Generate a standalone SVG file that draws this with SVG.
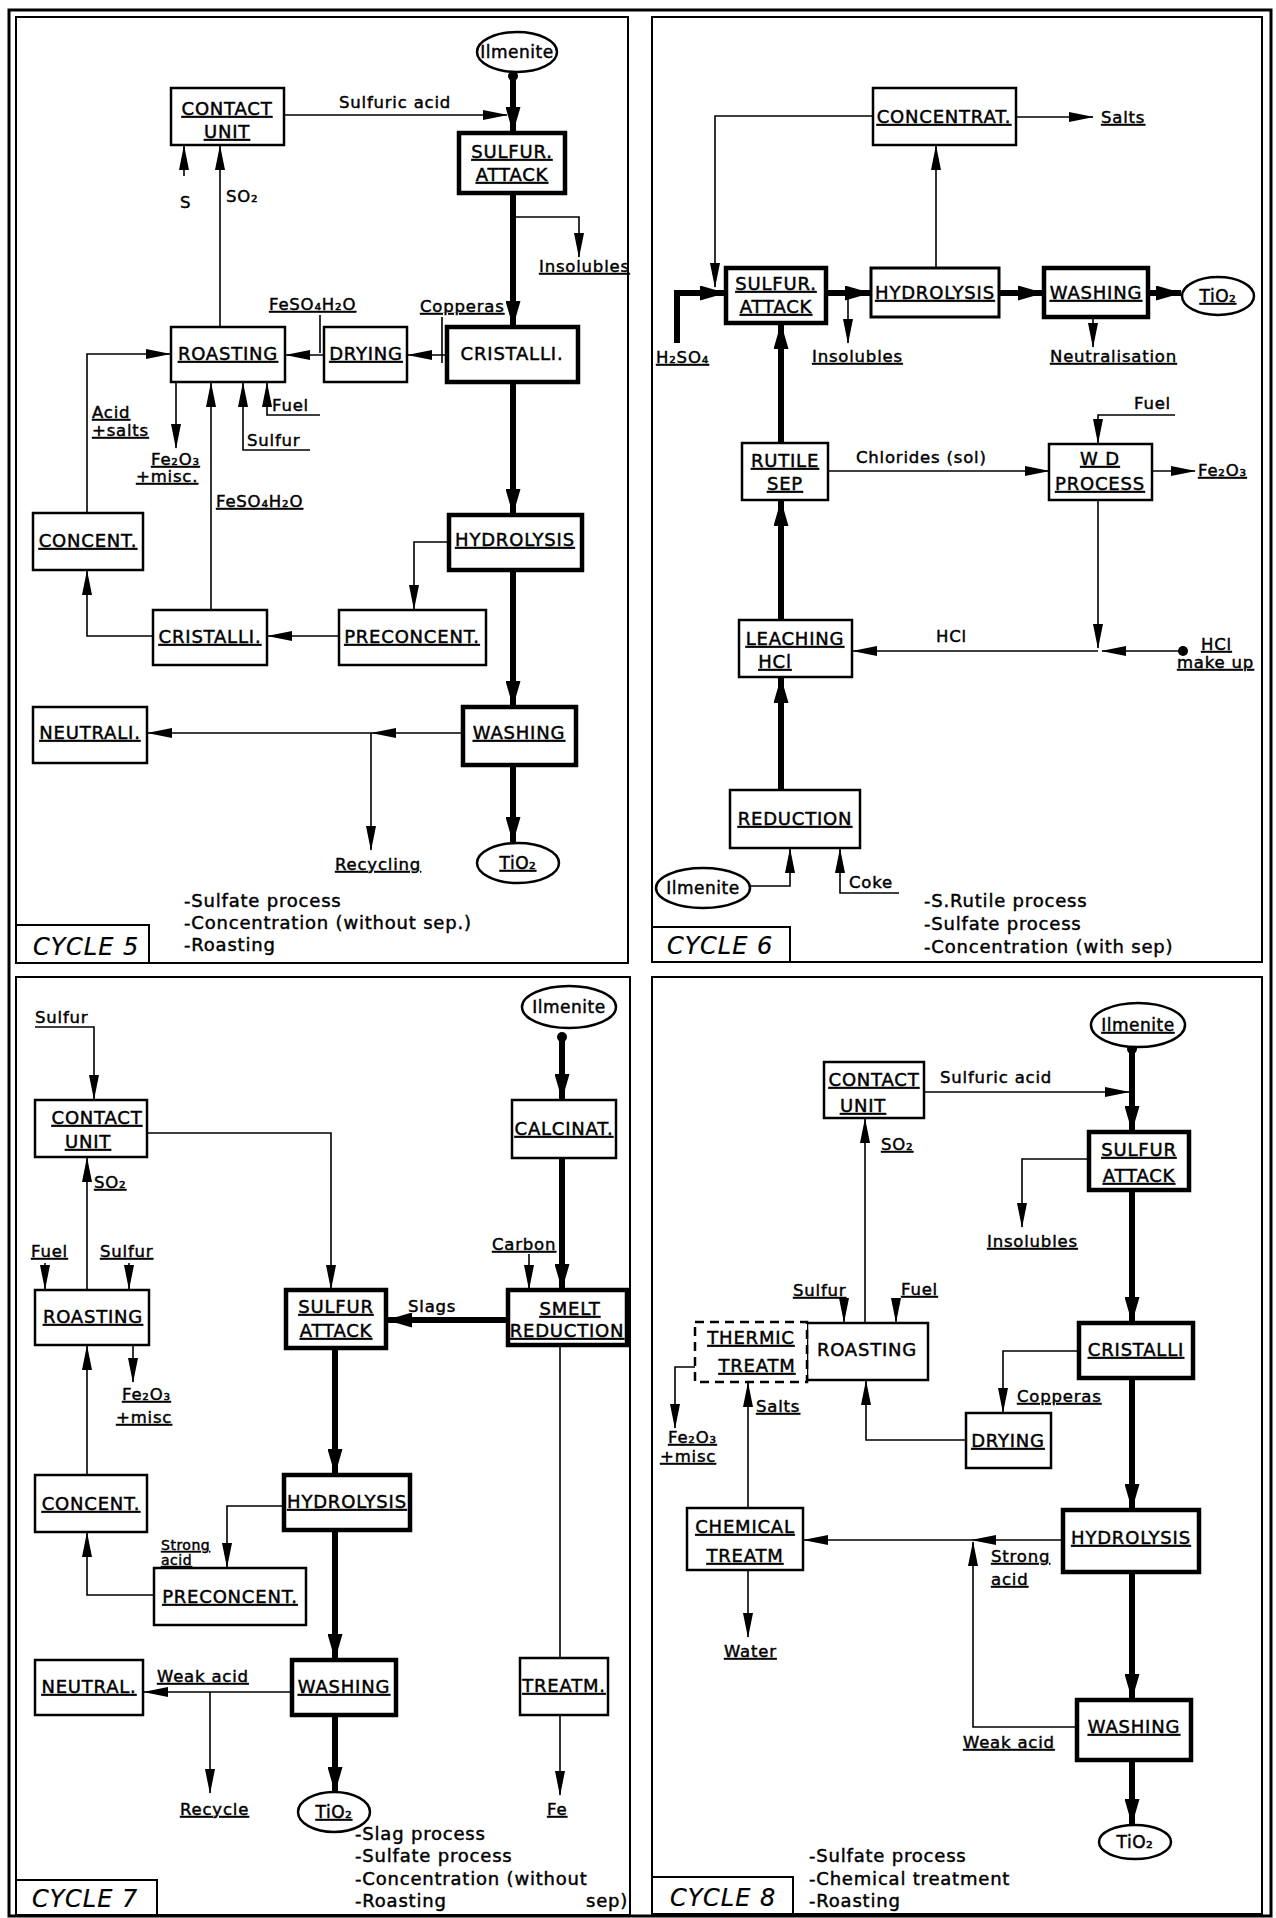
<svg xmlns="http://www.w3.org/2000/svg" width="1276" height="1918" viewBox="0 0 1276 1918">
<defs>
<style>
.frame{fill:none;stroke:#000;stroke-width:3}
.pan{fill:none;stroke:#000;stroke-width:2}
.box{fill:#fff;stroke:#000;stroke-width:2.5}
.tb{fill:#fff;stroke:#000;stroke-width:4.5}
.db{fill:#fff;stroke:#000;stroke-width:2.5;stroke-dasharray:9 6}
.ln{fill:none;stroke:#000;stroke-width:1.6}
.tk{fill:none;stroke:#000;stroke-width:6}
.ar{marker-end:url(#a)}
.at{marker-end:url(#b)}
.dot{fill:#000}
text{font-family:"DejaVu Sans","Liberation Sans",sans-serif;fill:#000;stroke:#000;stroke-width:0.45px}
.n{font-size:18px;letter-spacing:0.8px;text-anchor:middle}
.u{text-decoration:underline}
.e{font-size:17px;letter-spacing:0.5px;text-anchor:middle}
.l{font-size:16.5px;letter-spacing:0.8px}
.s{font-size:14px;letter-spacing:0.5px}
.d{font-size:18px;letter-spacing:0.8px}
.cy{font-size:24px;font-style:italic;letter-spacing:1px;stroke-width:0.2px}
</style>
<marker id="a" markerUnits="userSpaceOnUse" markerWidth="25" markerHeight="11" refX="24" refY="5.5" orient="auto" viewBox="0 0 25 11"><path d="M0,0.5 L25,5.5 L0,10.5 z" fill="#000"/></marker>
<marker id="b" markerUnits="userSpaceOnUse" markerWidth="26" markerHeight="15" refX="25" refY="7.5" orient="auto" viewBox="0 0 26 15"><path d="M0,0 L26,7.5 L0,15 z" fill="#000"/></marker>
</defs>
<rect width="1276" height="1918" fill="#fff"/>
<g id="frames">
<rect class="frame" x="9" y="10" width="1262" height="1906"/>
<rect class="pan" x="16" y="17" width="612" height="946"/>
<rect class="pan" x="652" y="17" width="610" height="945"/>
<rect class="pan" x="16" y="977" width="614" height="938"/>
<rect class="pan" x="652" y="977" width="610" height="937"/>
</g>
<g id="cycle-labels">
<rect class="pan" x="16" y="925" width="133" height="38"/><text class="cy" x="33" y="955">CYCLE 5</text>
<rect class="pan" x="652" y="927" width="138" height="35"/><text class="cy" x="667" y="954">CYCLE 6</text>
<rect class="pan" x="16" y="1880" width="141" height="35"/><text class="cy" x="32" y="1907">CYCLE 7</text>
<rect class="pan" x="652" y="1877" width="141" height="37"/><text class="cy" x="670" y="1906">CYCLE 8</text>
</g>

<g id="connectors">
<!-- Cycle 5 -->
<path class="tk at" d="M513,76 V132"/>
<path class="ln ar" d="M284,115 H507"/>
<path class="ln ar" d="M184,176 V146"/>
<path class="ln ar" d="M220,327 V146"/>
<path class="ln ar" d="M513,217 H579 V257"/>
<path class="tk at" d="M513,193 V326"/>
<path class="ln ar" d="M447,355 H408"/>
<path class="ln ar" d="M324,355 H286"/>
<path class="ln" d="M442,317 V363 M320,315 V353"/>
<path class="ln ar" d="M87,513 V354 H170"/>
<path class="ln ar" d="M176,382 V448"/>
<path class="ln ar" d="M211,610 V383"/>
<path class="ln ar" d="M310,450 H243 V383"/>
<path class="ln ar" d="M320,415 H267 V383"/>
<path class="ln ar" d="M153,636 H87 V571"/>
<path class="ln ar" d="M339,636 H268"/>
<path class="ln ar" d="M449,542 H414 V609"/>
<path class="tk at" d="M513,382 V514"/>
<path class="tk at" d="M513,570 V706"/>
<path class="tk at" d="M513,765 V842"/>
<path class="ln ar" d="M463,733 H372"/>
<path class="ln ar" d="M372,733 H148"/>
<path class="ln ar" d="M371,733 V850"/>
<circle class="dot" cx="513" cy="76" r="5"/>
<!-- Cycle 6 -->
<path class="ln ar" d="M1016,117 H1093"/>
<path class="ln ar" d="M873,116 H715 V287"/>
<path class="tk at" d="M677,343 V293 H725"/>
<path class="tk at" d="M826,293 H870"/>
<path class="ln ar" d="M848,293 V343"/>
<path class="ln ar" d="M936,268 V146"/>
<path class="tk at" d="M999,293 H1043"/>
<path class="tk at" d="M1148,293 H1181"/>
<path class="ln ar" d="M1093,317 V347"/>
<path class="ln ar" d="M1175,415 H1098 V443"/>
<path class="ln ar" d="M828,471 H1049"/>
<path class="ln ar" d="M1152,471 H1195"/>
<path class="tk at" d="M781,443 V324"/>
<path class="ln ar" d="M1098,500 V648"/>
<path class="ln ar" d="M1183,651 H1102"/>
<path class="ln ar" d="M1098,651 H853"/>
<path class="tk at" d="M781,620 V501"/>
<path class="tk at" d="M781,790 V678"/>
<path class="ln ar" d="M750,886 H790 V849"/>
<path class="ln ar" d="M899,893 H840 V849"/>
<circle class="dot" cx="1183" cy="651" r="5"/>
<!-- Cycle 7 -->
<path class="ln ar" d="M35,1027 H94 V1099"/>
<path class="ln ar" d="M147,1133 H331 V1289"/>
<path class="ln ar" d="M87,1290 V1158"/>
<path class="ln ar" d="M45,1263 V1289"/>
<path class="ln ar" d="M129,1263 V1289"/>
<path class="ln ar" d="M133,1345 V1382"/>
<path class="ln ar" d="M87,1475 V1346"/>
<path class="tk at" d="M562,1037 V1099"/>
<path class="tk at" d="M562,1158 V1289"/>
<path class="ln ar" d="M529,1254 V1289"/>
<path class="tk at" d="M508,1320 H387"/>
<path class="ln" d="M560,1345 V1658"/>
<path class="tk at" d="M335,1348 V1474"/>
<path class="ln ar" d="M284,1506 H227 V1567"/>
<path class="ln ar" d="M154,1595 H87 V1533"/>
<path class="tk at" d="M335,1530 V1659"/>
<path class="ln ar" d="M292,1692 H144"/>
<path class="ln ar" d="M210,1692 V1793"/>
<path class="tk at" d="M335,1715 V1792"/>
<path class="ln ar" d="M560,1715 V1795"/>
<circle class="dot" cx="562" cy="1037" r="5"/>
<!-- Cycle 8 -->
<path class="tk at" d="M1132,1048 V1131"/>
<path class="ln ar" d="M924,1092 H1129"/>
<path class="ln ar" d="M865,1323 V1119"/>
<path class="ln ar" d="M1089,1159 H1022 V1227"/>
<path class="tk at" d="M1132,1190 V1322"/>
<path class="ln ar" d="M1079,1351 H1003 V1412"/>
<path class="ln ar" d="M966,1440 H866 V1381"/>
<path class="ln ar" d="M844,1300 V1322"/>
<path class="ln ar" d="M896,1301 V1322"/>
<path class="ln ar" d="M695,1367 H675 V1428"/>
<path class="ln ar" d="M748,1508 V1383"/>
<path class="ln ar" d="M748,1570 V1637"/>
<path class="tk at" d="M1132,1378 V1509"/>
<path class="ln ar" d="M1063,1540 H972"/>
<path class="ln ar" d="M972,1540 H804"/>
<path class="ln ar" d="M1077,1727 H973 V1542"/>
<path class="tk at" d="M1132,1572 V1699"/>
<path class="tk at" d="M1132,1760 V1824"/>
<circle class="dot" cx="1132" cy="1049" r="5"/>
</g>

<!-- Cycle 5 nodes -->
<g id="c5-ilmenite"><ellipse class="box" cx="517" cy="52" rx="40" ry="20"/><text class="e" x="517" y="58">Ilmenite</text></g>
<g id="c5-contact"><rect class="box" x="171" y="88" width="113" height="57"/><text class="n u" x="227" y="115">CONTACT</text><text class="n u" x="227" y="138">UNIT</text></g>
<g id="c5-sulfur-attack"><rect class="tb" x="459" y="133" width="106" height="60"/><text class="n u" x="512" y="158">SULFUR.</text><text class="n u" x="512" y="181">ATTACK</text></g>
<g id="c5-cristalli"><rect class="tb" x="447" y="327" width="131" height="55"/><text class="n" x="512" y="360">CRISTALLI.</text></g>
<g id="c5-drying"><rect class="box" x="324" y="327" width="83" height="55"/><text class="n u" x="366" y="360">DRYING</text></g>
<g id="c5-roasting"><rect class="box" x="171" y="327" width="114" height="55"/><text class="n u" x="228" y="360">ROASTING</text></g>
<g id="c5-concent"><rect class="box" x="33" y="513" width="110" height="57"/><text class="n u" x="88" y="547">CONCENT.</text></g>
<g id="c5-cristalli2"><rect class="box" x="153" y="610" width="114" height="55"/><text class="n u" x="210" y="643">CRISTALLI.</text></g>
<g id="c5-preconcent"><rect class="box" x="339" y="610" width="147" height="55"/><text class="n u" x="412" y="643">PRECONCENT.</text></g>
<g id="c5-hydrolysis"><rect class="tb" x="449" y="515" width="133" height="55"/><text class="n u" x="515" y="546">HYDROLYSIS</text></g>
<g id="c5-washing"><rect class="tb" x="463" y="707" width="113" height="58"/><text class="n u" x="519" y="739">WASHING</text></g>
<g id="c5-neutrali"><rect class="box" x="33" y="707" width="114" height="56"/><text class="n u" x="90" y="739">NEUTRALI.</text></g>
<g id="c5-tio2"><ellipse class="box" cx="518" cy="863" rx="41" ry="20"/><text class="e u" x="518" y="869">TiO₂</text></g>

<!-- Cycle 6 nodes -->
<g id="c6-concentrat"><rect class="box" x="873" y="88" width="143" height="57"/><text class="n u" x="944" y="123">CONCENTRAT.</text></g>
<g id="c6-sulfur-attack"><rect class="tb" x="726" y="268" width="100" height="55"/><text class="n u" x="776" y="290">SULFUR.</text><text class="n u" x="776" y="313">ATTACK</text></g>
<g id="c6-hydrolysis"><rect class="box" x="871" y="268" width="128" height="49" style="stroke-width:3"/><text class="n u" x="935" y="299">HYDROLYSIS</text></g>
<g id="c6-washing"><rect class="tb" x="1044" y="268" width="104" height="49"/><text class="n u" x="1096" y="299">WASHING</text></g>
<g id="c6-tio2"><ellipse class="box" cx="1218" cy="296" rx="36" ry="19"/><text class="e u" x="1218" y="302">TiO₂</text></g>
<g id="c6-rutile-sep"><rect class="box" x="742" y="443" width="86" height="57"/><text class="n u" x="785" y="467">RUTILE</text><text class="n u" x="785" y="490">SEP</text></g>
<g id="c6-wd-process"><rect class="box" x="1049" y="444" width="103" height="56"/><text class="n u" x="1100" y="465">W D</text><text class="n u" x="1100" y="490">PROCESS</text></g>
<g id="c6-leaching"><rect class="box" x="739" y="620" width="113" height="57"/><text class="n u" x="795" y="645">LEACHING</text><text class="n u" x="775" y="668">HCl</text></g>
<g id="c6-reduction"><rect class="box" x="730" y="790" width="130" height="58"/><text class="n u" x="795" y="825">REDUCTION</text></g>
<g id="c6-ilmenite"><ellipse class="box" cx="703" cy="888" rx="47" ry="20"/><text class="e" x="703" y="894">Ilmenite</text></g>

<!-- Cycle 7 nodes -->
<g id="c7-contact"><rect class="box" x="35" y="1100" width="112" height="57"/><text class="n u" x="97" y="1124">CONTACT</text><text class="n u" x="88" y="1148">UNIT</text></g>
<g id="c7-roasting"><rect class="box" x="35" y="1290" width="114" height="55"/><text class="n u" x="93" y="1323">ROASTING</text></g>
<g id="c7-sulfur-attack"><rect class="tb" x="286" y="1290" width="100" height="58"/><text class="n u" x="336" y="1313">SULFUR</text><text class="n u" x="336" y="1337">ATTACK</text></g>
<g id="c7-smelt"><rect class="tb" x="508" y="1290" width="119" height="55"/><text class="n u" x="570" y="1315">SMELT</text><text class="n u" x="567" y="1337">REDUCTION</text></g>
<g id="c7-ilmenite"><ellipse class="box" cx="569" cy="1007" rx="47" ry="21"/><text class="e" x="569" y="1013">Ilmenite</text></g>
<g id="c7-calcinat"><rect class="box" x="512" y="1100" width="104" height="58"/><text class="n u" x="564" y="1135">CALCINAT.</text></g>
<g id="c7-concent"><rect class="box" x="35" y="1475" width="112" height="57"/><text class="n u" x="91" y="1510">CONCENT.</text></g>
<g id="c7-hydrolysis"><rect class="tb" x="284" y="1475" width="126" height="55"/><text class="n u" x="347" y="1508">HYDROLYSIS</text></g>
<g id="c7-preconcent"><rect class="box" x="154" y="1568" width="152" height="57"/><text class="n u" x="230" y="1603">PRECONCENT.</text></g>
<g id="c7-washing"><rect class="tb" x="292" y="1660" width="104" height="55"/><text class="n u" x="344" y="1693">WASHING</text></g>
<g id="c7-neutral"><rect class="box" x="35" y="1660" width="108" height="55"/><text class="n u" x="89" y="1693">NEUTRAL.</text></g>
<g id="c7-treatm"><rect class="box" x="520" y="1658" width="88" height="57"/><text class="n u" x="564" y="1692">TREATM.</text></g>
<g id="c7-tio2"><ellipse class="box" cx="334" cy="1812" rx="36" ry="20"/><text class="e u" x="334" y="1818">TiO₂</text></g>

<!-- Cycle 8 nodes -->
<g id="c8-ilmenite"><ellipse class="box" cx="1138" cy="1025" rx="47" ry="22"/><text class="e u" x="1138" y="1031">Ilmenite</text></g>
<g id="c8-contact"><rect class="box" x="824" y="1062" width="100" height="56"/><text class="n u" x="874" y="1086">CONTACT</text><text class="n u" x="863" y="1112">UNIT</text></g>
<g id="c8-sulfur-attack"><rect class="tb" x="1089" y="1132" width="100" height="58"/><text class="n u" x="1139" y="1156">SULFUR</text><text class="n u" x="1139" y="1182">ATTACK</text></g>
<g id="c8-cristalli"><rect class="tb" x="1079" y="1323" width="114" height="55"/><text class="n u" x="1136" y="1356">CRISTALLI</text></g>
<g id="c8-roasting"><rect class="box" x="807" y="1323" width="121" height="57"/><text class="n" x="867" y="1356">ROASTING</text></g>
<g id="c8-thermic"><rect class="db" x="695" y="1322" width="112" height="60"/><text class="n u" x="751" y="1344">THERMIC</text><text class="n u" x="757" y="1372">TREATM</text></g>
<g id="c8-drying"><rect class="box" x="966" y="1413" width="85" height="55"/><text class="n u" x="1008" y="1447">DRYING</text></g>
<g id="c8-chemical"><rect class="box" x="687" y="1508" width="116" height="62"/><text class="n u" x="745" y="1533">CHEMICAL</text><text class="n u" x="745" y="1562">TREATM</text></g>
<g id="c8-hydrolysis"><rect class="tb" x="1063" y="1510" width="136" height="62"/><text class="n u" x="1131" y="1544">HYDROLYSIS</text></g>
<g id="c8-washing"><rect class="tb" x="1077" y="1700" width="114" height="60"/><text class="n u" x="1134" y="1733">WASHING</text></g>
<g id="c8-tio2"><ellipse class="box" cx="1135" cy="1842" rx="36" ry="17"/><text class="e" x="1135" y="1848">TiO₂</text></g>

<g id="labels">
<!-- Cycle 5 -->
<text class="l" x="339" y="108">Sulfuric acid</text>
<text class="l" x="180" y="208">S</text>
<text class="l" x="226" y="202">SO₂</text>
<text class="l u" x="539" y="272">Insolubles</text>
<text class="l u" x="420" y="312">Copperas</text>
<text class="l u" x="269" y="310">FeSO₄H₂O</text>
<text class="l u" x="92" y="418">Acid</text>
<text class="l u" x="92" y="436">+salts</text>
<text class="l u" x="151" y="465">Fe₂O₃</text>
<text class="l u" x="136" y="482">+misc.</text>
<text class="l" x="272" y="411">Fuel</text>
<text class="l" x="247" y="446">Sulfur</text>
<text class="l u" x="216" y="507">FeSO₄H₂O</text>
<text class="l u" x="335" y="870">Recycling</text>
<text class="d" x="184" y="907">-Sulfate process</text>
<text class="d" x="184" y="929">-Concentration (without sep.)</text>
<text class="d" x="184" y="951">-Roasting</text>
<!-- Cycle 6 -->
<text class="l u" x="1101" y="123">Salts</text>
<text class="l u" x="656" y="363">H₂SO₄</text>
<text class="l u" x="812" y="362">Insolubles</text>
<text class="l u" x="1050" y="362">Neutralisation</text>
<text class="l" x="1134" y="409">Fuel</text>
<text class="l" x="856" y="463">Chlorides (sol)</text>
<text class="l u" x="1198" y="476">Fe₂O₃</text>
<text class="l" x="936" y="642">HCl</text>
<text class="l u" x="1201" y="650">HCl</text>
<text class="l u" x="1177" y="668">make up</text>
<text class="l" x="849" y="888">Coke</text>
<text class="d" x="924" y="907">-S.Rutile process</text>
<text class="d" x="924" y="930">-Sulfate process</text>
<text class="d" x="924" y="953">-Concentration (with sep)</text>
<!-- Cycle 7 -->
<text class="l" x="35" y="1023">Sulfur</text>
<text class="l u" x="94" y="1188">SO₂</text>
<text class="l u" x="31" y="1257">Fuel</text>
<text class="l u" x="100" y="1257">Sulfur</text>
<text class="l u" x="122" y="1400">Fe₂O₃</text>
<text class="l u" x="116" y="1423">+misc</text>
<text class="l u" x="492" y="1250">Carbon</text>
<text class="l" x="408" y="1312">Slags</text>
<text class="s u" x="161" y="1550">Strong</text>
<text class="s u" x="161" y="1565">acid</text>
<text class="l u" x="157" y="1682">Weak acid</text>
<text class="l u" x="180" y="1815">Recycle</text>
<text class="l u" x="547" y="1815">Fe</text>
<text class="d" x="355" y="1840">-Slag process</text>
<text class="d" x="355" y="1862">-Sulfate process</text>
<text class="d" x="355" y="1885">-Concentration (without</text>
<text class="d" x="355" y="1907">-Roasting</text>
<text class="d" x="586" y="1907">sep)</text>
<!-- Cycle 8 -->
<text class="l" x="940" y="1083">Sulfuric acid</text>
<text class="l u" x="881" y="1150">SO₂</text>
<text class="l u" x="987" y="1247">Insolubles</text>
<text class="l u" x="793" y="1296">Sulfur</text>
<text class="l u" x="901" y="1295">Fuel</text>
<text class="l u" x="1017" y="1402">Copperas</text>
<text class="l u" x="668" y="1443">Fe₂O₃</text>
<text class="l u" x="660" y="1462">+misc</text>
<text class="l u" x="756" y="1412">Salts</text>
<text class="l u" x="724" y="1657">Water</text>
<text class="l u" x="991" y="1562">Strong</text>
<text class="l u" x="991" y="1585">acid</text>
<text class="l u" x="963" y="1748">Weak acid</text>
<text class="d" x="809" y="1862">-Sulfate process</text>
<text class="d" x="809" y="1885">-Chemical treatment</text>
<text class="d" x="809" y="1907">-Roasting</text>
</g>
</svg>
